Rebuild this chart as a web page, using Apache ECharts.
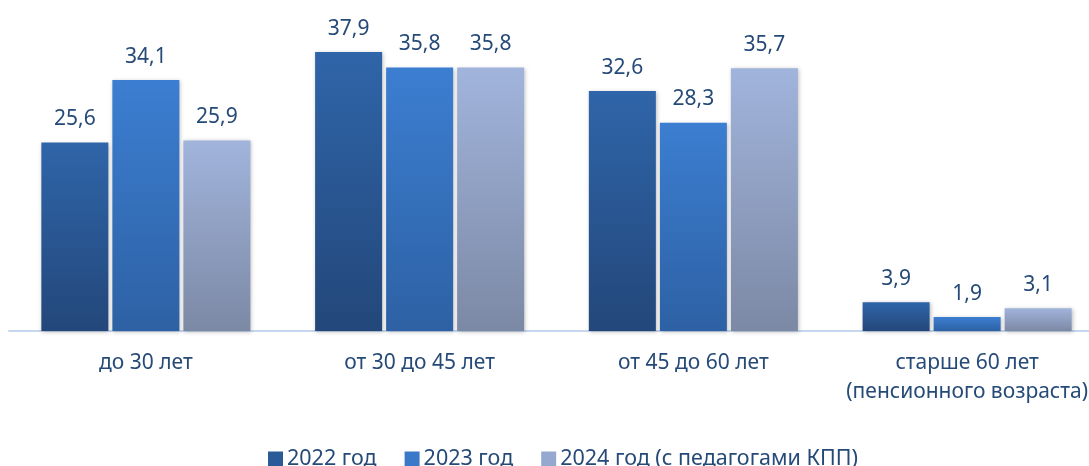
<!DOCTYPE html>
<html><head><meta charset="utf-8">
<script src="https://cdn.jsdelivr.net/npm/echarts@6/dist/echarts.min.js"></script>
<style>html,body{margin:0;padding:0;background:#fff}#c{width:1089px;height:466px}</style>
</head><body><div id="c"></div>
<script>
const categories = ['до 30 лет', 'от 30 до 45 лет', 'от 45 до 60 лет', 'старше 60 лет\n(пенсионного возраста)'];
const seriesNames = ['2022 год', '2023 год', '2024 год (с педагогами КПП)'];
const values2022 = [25.6, 37.9, 32.6, 3.9];
const values2023 = [34.1, 35.8, 28.3, 1.9];
const values2024 = [25.9, 35.8, 35.7, 3.1];

const FONT = 'Noto Sans';
const grads = [
  ['#2f65a9', '#23477a'],
  ['#3c7ed1', '#2d61a4'],
  ['#a1b4dc', '#7c89a5']
];
const legendColors = ['#2a5a98', '#3a78c8', '#95a8d0'];
function grad(c) {
  return new echarts.graphic.LinearGradient(0, 0, 0, 1, [{offset: 0, color: c[0]}, {offset: 1, color: c[1]}]);
}
const datasets = [values2022, values2023, values2024];
const chart = echarts.init(document.getElementById('c'));
chart.setOption({
  animation: false,
  grid: {left: 9, width: 1095, top: 36.6, bottom: 135, outerBoundsMode: 'none', containLabel: false},
  legend: {
    top: 443, left: 263, itemWidth: 15, itemHeight: 15, itemGap: 28, icon: 'rect',
    textStyle: {fontFamily: FONT, fontSize: 21.5, color: '#264a78', padding: [0, 0, 0, -1]},
    data: seriesNames.map((n, i) => ({name: n, itemStyle: {color: legendColors[i]}}))
  },
  xAxis: {
    type: 'category', data: categories,
    axisLine: {lineStyle: {color: '#c6d7ee', width: 2}},
    axisTick: {show: false},
    axisLabel: {interval: 0, fontFamily: FONT, fontSize: 21, color: '#264a78', margin: 18, lineHeight: 29}
  },
  yAxis: {type: 'value', min: 0, max: 40, show: false, splitLine: {show: false}},
  series: datasets.map((d, i) => ({
    name: seriesNames[i], type: 'bar', data: d, barWidth: 67, barGap: '6%',
    itemStyle: {color: grad(grads[i]), shadowBlur: 4, shadowColor: 'rgba(0,0,0,0.25)', shadowOffsetX: 1, shadowOffsetY: 1},
    label: {show: true, position: 'top', distance: 13, fontFamily: FONT, fontSize: 21, color: '#264a78',
      formatter: p => String(p.value).replace('.', ',')}
  }))
});
</script></body></html>
